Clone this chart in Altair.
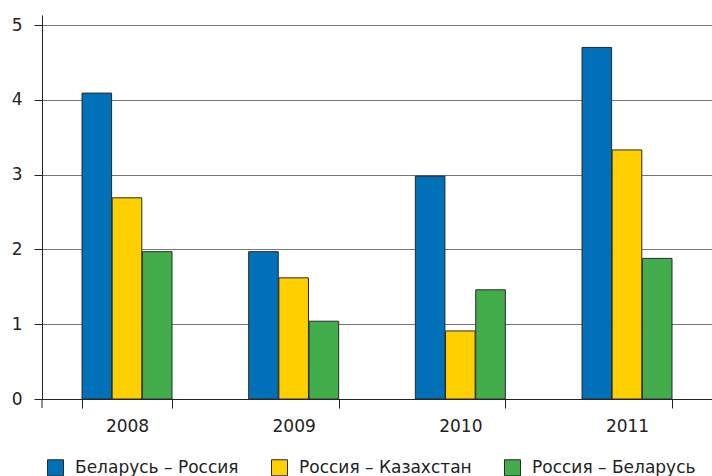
import altair as alt
import pandas as pd

years = ["2008", "2009", "2010", "2011"]
series = ["Беларусь – Россия", "Россия – Казахстан", "Россия – Беларусь"]
colors = ["#0070b8", "#ffd000", "#43ad4b"]
bel_rus = [4.09, 1.97, 2.98, 4.70]
rus_kaz = [2.69, 1.62, 0.91, 3.33]
rus_bel = [1.97, 1.04, 1.46, 1.88]
y_ticks = [0, 1, 2, 3, 4, 5]

rows = []
for s, vals in zip(series, [bel_rus, rus_kaz, rus_bel]):
    for y, v in zip(years, vals):
        rows.append({"year": y, "series": s, "value": v})
df = pd.DataFrame(rows)

W, H = 670, 384
FONT = "DejaVu Sans"

bars = alt.Chart(df).mark_bar(stroke="#2a2a2a", strokeWidth=1).encode(
    x=alt.X("year:N", sort=years,
            scale=alt.Scale(paddingInner=0.46, paddingOuter=0.24),
            axis=alt.Axis(title=None, labelAngle=0, tickBand="extent",
                          tickSize=9, labelPadding=10, labelFontSize=17,
                          labelColor="#222", domainColor="#222", tickColor="#222",
                          labelFont=FONT, grid=False)),
    xOffset=alt.XOffset("series:N", sort=series, scale=alt.Scale(paddingInner=0.02)),
    y=alt.Y("value:Q", scale=alt.Scale(domain=[0, 5.134], nice=False),
            axis=alt.Axis(title=None, values=y_ticks, grid=True, gridColor="#777",
                          gridWidth=1, tickSize=8, labelPadding=12, labelFontSize=17,
                          labelColor="#222", domainColor="#222", tickColor="#222",
                          labelFont=FONT)),
    color=alt.Color("series:N", sort=series,
                    scale=alt.Scale(domain=series, range=colors),
                    legend=alt.Legend(title=None, orient="none", direction="horizontal",
                                      legendX=5, legendY=444,
                                      symbolType="square", symbolSize=256,
                                      symbolStrokeColor="#2a2a2a", symbolStrokeWidth=1,
                                      labelFontSize=17, labelFont=FONT, labelColor="#222",
                                      labelLimit=400, columnPadding=30, labelOffset=11)),
)

ext = alt.Chart(pd.DataFrame({"k": [0]})).mark_rule(color="#222").encode(
    x=alt.value(0), y=alt.value(H), y2=alt.value(H + 9)
)

chart = alt.layer(bars, ext).properties(
    width=W, height=H,
    autosize=alt.AutoSizeParams(type="none"),
    padding={"left": 42, "top": 15, "right": 0, "bottom": 77},
).configure_view(stroke=None)

chart.save("out.html", embed_options={"renderer": "svg", "actions": False})
